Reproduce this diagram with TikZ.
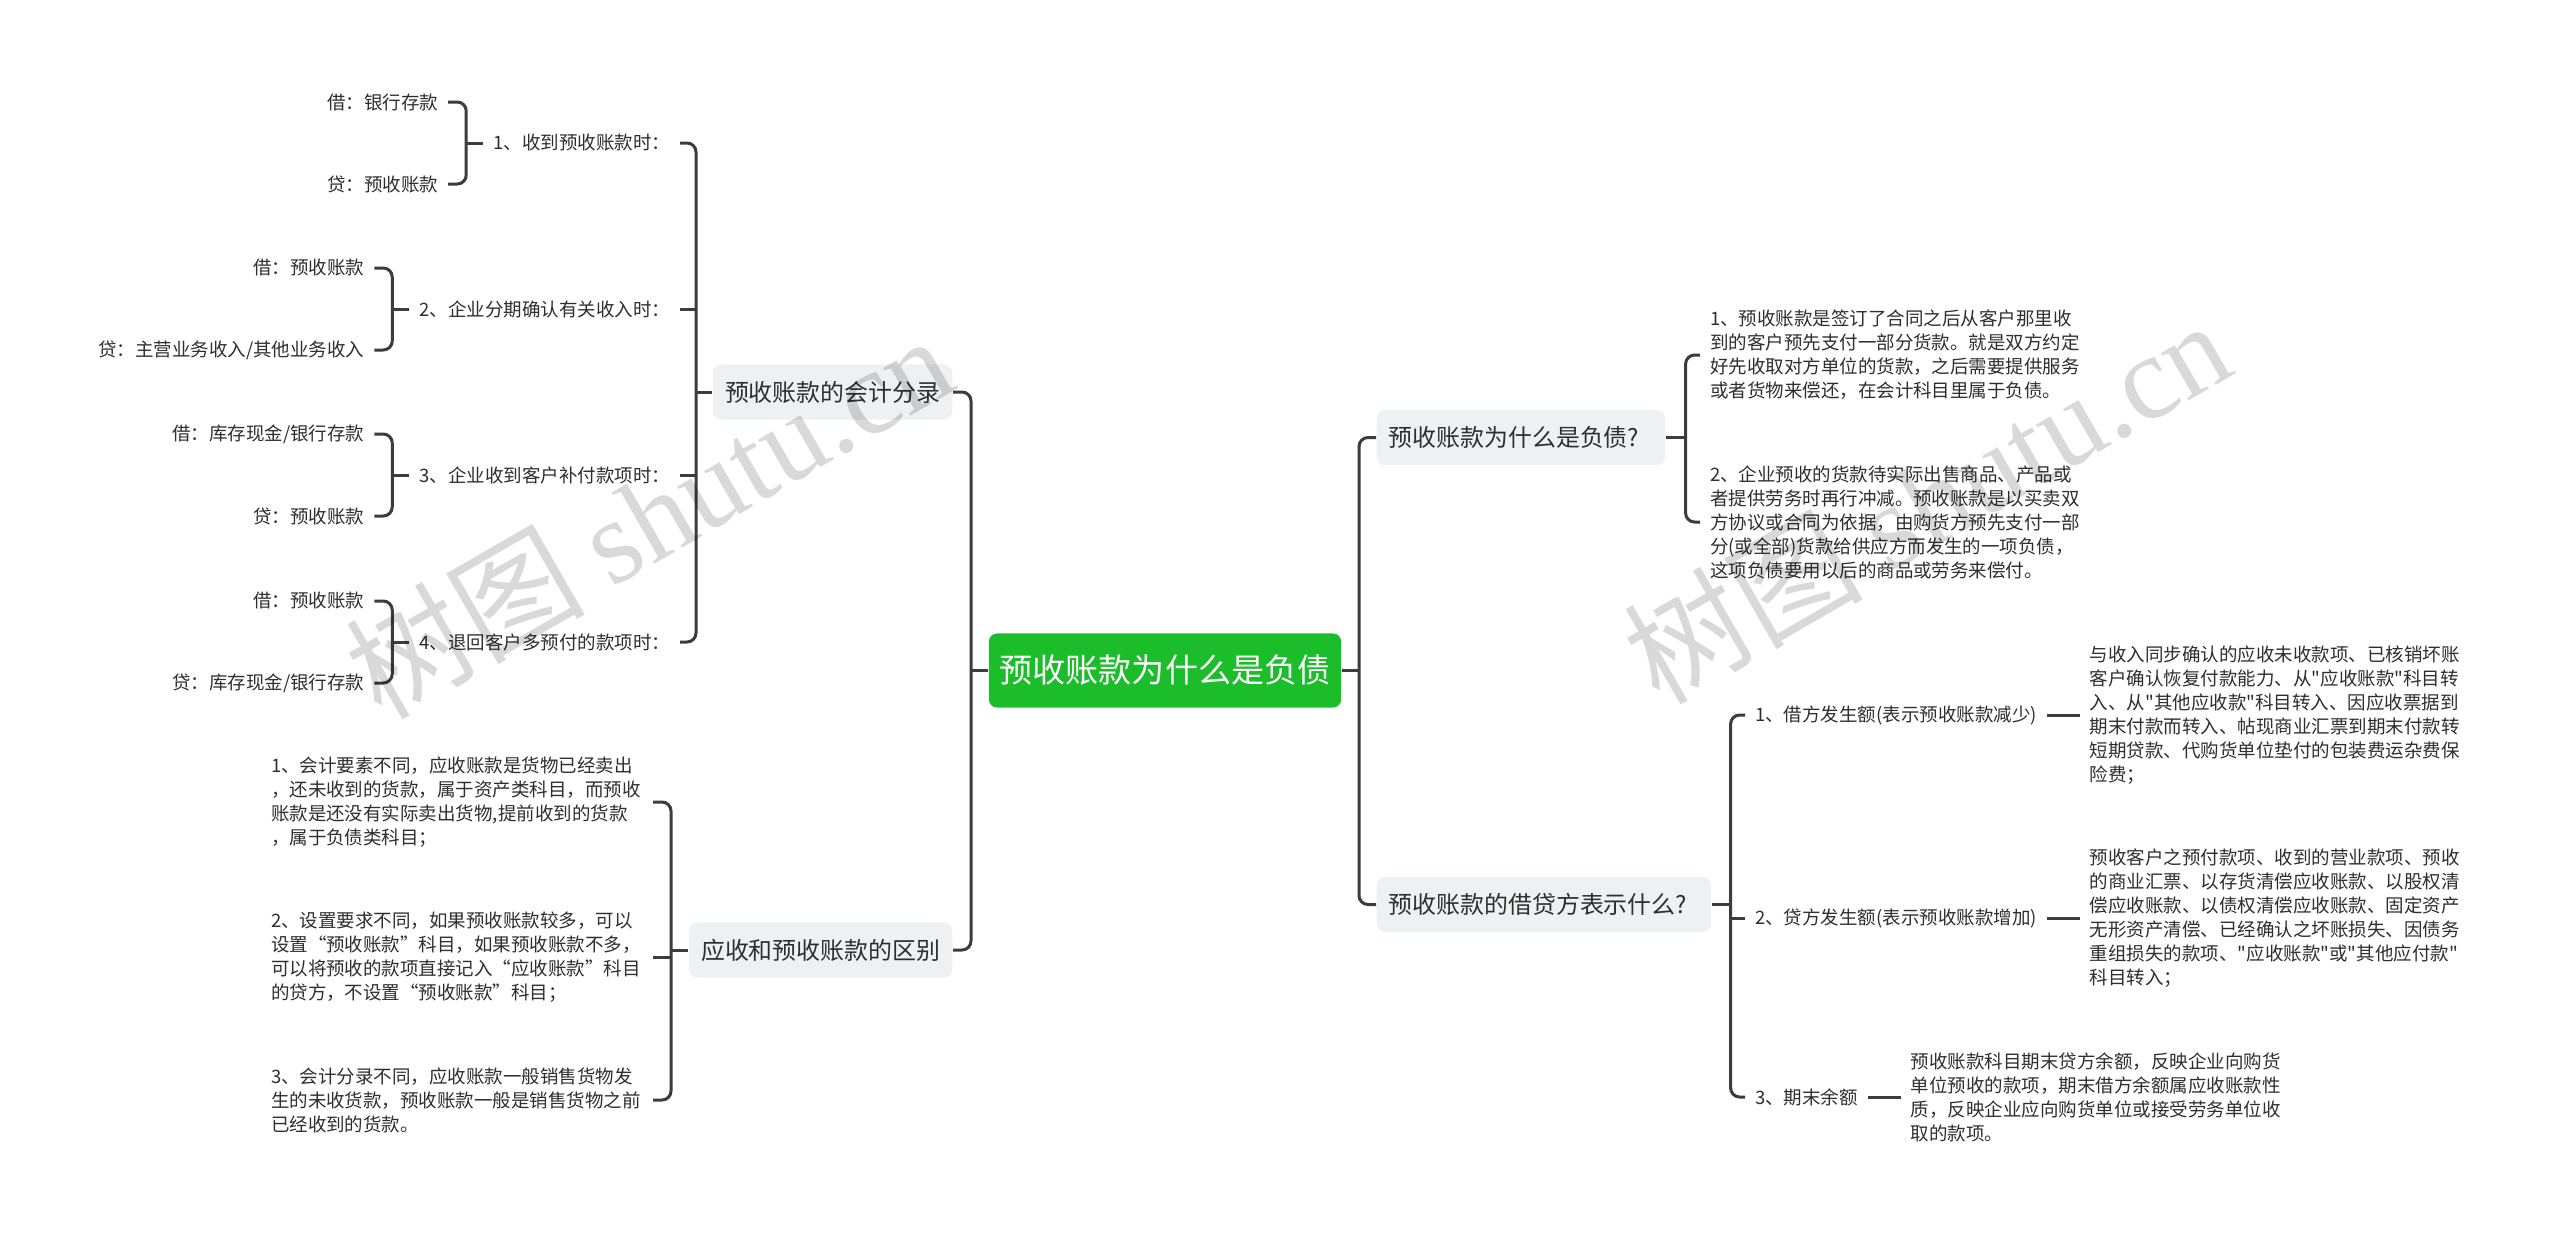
\documentclass[tikz,border=0pt]{standalone}
\usepackage{fontspec}
\newfontfamily\cjk{Noto Sans CJK SC}
\newfontfamily\wmlatin{Liberation Serif}
\usetikzlibrary{positioning,calc}
\definecolor{rootgreen}{HTML}{1BBE2A}
\definecolor{topicfill}{HTML}{EEF1F4}
\definecolor{inkgray}{HTML}{2E2E2E}
\definecolor{linegray}{HTML}{3C3C3C}
\newcommand\rootfont{\cjk\fontsize{9.4pt}{11pt}\selectfont}
\newcommand\topicfont{\cjk\fontsize{6.8pt}{8pt}\selectfont}
\newcommand\leaffont{\cjk\fontsize{5.26pt}{6.83pt}\selectfont}
\newcommand\wmfont{\cjk\fontsize{34pt}{38pt}\selectfont}

\begin{document}
\begin{tikzpicture}[
    x=0.01cm, y=-0.01cm,
    root/.style={rectangle, rounded corners=0.08cm, fill=rootgreen, text=white, font=\rootfont, minimum width=3.52cm, minimum height=0.74cm, inner sep=0pt},
    topic/.style={rectangle, rounded corners=0.08cm, fill=topicfill, text=inkgray, font=\topicfont, align=left, inner xsep=0.12cm, inner ysep=0pt, minimum height=0.55cm},
    leaf/.style={text=inkgray, font=\leaffont, align=left, inner sep=0pt, outer xsep=0.1cm},
    para/.style={leaf, text width=3.72cm},
    conn/.style={draw=linegray, line width=0.03cm, rounded corners=0.09cm},
    wmark/.style={text=black, text opacity=0.15, font=\wmfont}
]
\fill[white] (0,0) rectangle (2560,1233);
\useasboundingbox (0,0) rectangle (2560,1233);

% centre
\node[root] (root) at (1165,670.5) {预收账款为什么是负债};

% main topics
\node[topic, anchor=east] (acc) at (953,392) {预收账款的会计分录};
\node[topic, anchor=east] (diff) at (953,950) {应收和预收账款的区别};
\node[topic, anchor=west, text width=2.64cm] (why) at (1376,437.5) {预收账款为什么是负债?};
\node[topic, anchor=west, text width=3.10cm] (dc) at (1376,904.5) {预收账款的借贷方表示什么?};

\coordinate (lhub) at (971,670.5);
\coordinate (rhub) at (1359,670.5);
\draw[conn] (root.west) -- (lhub);
\draw[conn] (acc.east) -| (lhub) |- (diff.east);
\draw[conn] (root.east) -- (rhub);
\draw[conn] (why.west) -| (rhub) |- (dc.west);

% accounting entries
\node[leaf, anchor=east] (a1) at (680,143) {1、收到预收账款时：};
\node[leaf, anchor=east] (a2) at (680,309) {2、企业分期确认有关收入时：};
\node[leaf, anchor=east] (a3) at (680,475) {3、企业收到客户补付款项时：};
\node[leaf, anchor=east] (a4) at (680,642) {4、退回客户多预付的款项时：};
\coordinate (ahub) at (696,392);
\draw[conn] (acc.west) -- (ahub);
\draw[conn] (a1.east) -| (ahub) |- (a4.east);
\draw[conn] (a2.east) -- (a2.east -| ahub);
\draw[conn] (a3.east) -- (a3.east -| ahub);

\node[leaf, anchor=east] (a1d) at ($(a1.west)+(-35,-41)$) {借：银行存款};
\node[leaf, anchor=east] (a1c) at ($(a1.west)+(-35,41)$) {贷：预收账款};
\coordinate (b1) at ($(a1.west)+(-17,0)$);
\draw[conn] (a1.west) -- (b1);
\draw[conn] (a1d.east) -| (b1) |- (a1c.east);

\node[leaf, anchor=east] (a2d) at ($(a2.west)+(-35,-41)$) {借：预收账款};
\node[leaf, anchor=east] (a2c) at ($(a2.west)+(-35,41)$) {贷：主营业务收入/其他业务收入};
\coordinate (b2) at ($(a2.west)+(-17,0)$);
\draw[conn] (a2.west) -- (b2);
\draw[conn] (a2d.east) -| (b2) |- (a2c.east);

\node[leaf, anchor=east] (a3d) at ($(a3.west)+(-35,-41)$) {借：库存现金/银行存款};
\node[leaf, anchor=east] (a3c) at ($(a3.west)+(-35,41)$) {贷：预收账款};
\coordinate (b3) at ($(a3.west)+(-17,0)$);
\draw[conn] (a3.west) -- (b3);
\draw[conn] (a3d.east) -| (b3) |- (a3c.east);

\node[leaf, anchor=east] (a4d) at ($(a4.west)+(-35,-41)$) {借：预收账款};
\node[leaf, anchor=east] (a4c) at ($(a4.west)+(-35,41)$) {贷：库存现金/银行存款};
\coordinate (b4) at ($(a4.west)+(-17,0)$);
\draw[conn] (a4.west) -- (b4);
\draw[conn] (a4d.east) -| (b4) |- (a4c.east);

% differences
\node[para, anchor=west] (d1) at (261,802) {1、会计要素不同，应收账款是货物已经卖出\\，还未收到的货款，属于资产类科目，而预收\\账款是还没有实际卖出货物,提前收到的货款\\，属于负债类科目；};
\node[para, anchor=west] (d2) at (261,957) {2、设置要求不同，如果预收账款较多，可以\\设置“预收账款”科目，如果预收账款不多，\\可以将预收的款项直接记入“应收账款”科目\\的贷方，不设置“预收账款”科目；};
\node[para, anchor=west] (d3) at (261,1100) {3、会计分录不同，应收账款一般销售货物发\\生的未收货款，预收账款一般是销售货物之前\\已经收到的货款。};
\coordinate (dhub) at (671,950);
\draw[conn] (diff.west) -- (dhub);
\draw[conn] (d1.east) -| (dhub) |- (d3.east);
\draw[conn] (d2.east) -- (d2.east -| dhub);

% why a liability
\node[para, anchor=west] (w1) at (1700,355) {1、预收账款是签订了合同之后从客户那里收\\到的客户预先支付一部分货款。就是双方约定\\好先收取对方单位的货款，之后需要提供服务\\或者货物来偿还，在会计科目里属于负债。};
\node[para, anchor=west] (w2) at (1700,522) {2、企业预收的货款待实际出售商品、产品或\\者提供劳务时再行冲减。预收账款是以买卖双\\方协议或合同为依据，由购货方预先支付一部\\分(或全部)货款给供应方而发生的一项负债，\\这项负债要用以后的商品或劳务来偿付。};
\coordinate (whub) at ($(why.east)+(20,0)$);
\draw[conn] (why.east) -- (whub);
\draw[conn] (w1.west) -| (whub) |- (w2.west);

% debit and credit
\node[leaf, anchor=west] (c1) at (1745,715) {1、借方发生额(表示预收账款减少)};
\node[leaf, anchor=west] (c2) at (1745,918) {2、贷方发生额(表示预收账款增加)};
\node[leaf, anchor=west] (c3) at (1745,1097) {3、期末余额};
\coordinate (chub) at ($(dc.east)+(19,0)$);
\draw[conn] (dc.east) -- (chub);
\draw[conn] (c1.west) -| (chub) |- (c3.west);
\draw[conn] (c2.west) -- (c2.west -| chub);

\node[para, anchor=west] (t1) at ($(c1.east)+(33,0)$) {与收入同步确认的应收未收款项、已核销坏账\\客户确认恢复付款能力、从"应收账款"科目转\\入、从"其他应收款"科目转入、因应收票据到\\期末付款而转入、帖现商业汇票到期末付款转\\短期贷款、代购货单位垫付的包装费运杂费保\\险费；};
\node[para, anchor=west] (t2) at ($(c2.east)+(33,0)$) {预收客户之预付款项、收到的营业款项、预收\\的商业汇票、以存货清偿应收账款、以股权清\\偿应收账款、以债权清偿应收账款、固定资产\\无形资产清偿、已经确认之坏账损失、因债务\\重组损失的款项、"应收账款"或"其他应付款"\\科目转入；};
\node[para, anchor=west] (t3) at ($(c3.east)+(33,0)$) {预收账款科目期末贷方余额，反映企业向购货\\单位预收的款项，期末借方余额属应收账款性\\质，反映企业应向购货单位或接受劳务单位收\\取的款项。};
\draw[conn] (c1.east) -- (t1.west);
\draw[conn] (c2.east) -- (t2.west);
\draw[conn] (c3.east) -- (t3.west);

% watermark
\node[wmark, rotate=30] (wm1) at (648,515) {树图 {\wmlatin shutu.cn}};
\node[wmark, rotate=30] (wm2) at (1926,500) {树图 {\wmlatin shutu.cn}};
\end{tikzpicture}
\end{document}
